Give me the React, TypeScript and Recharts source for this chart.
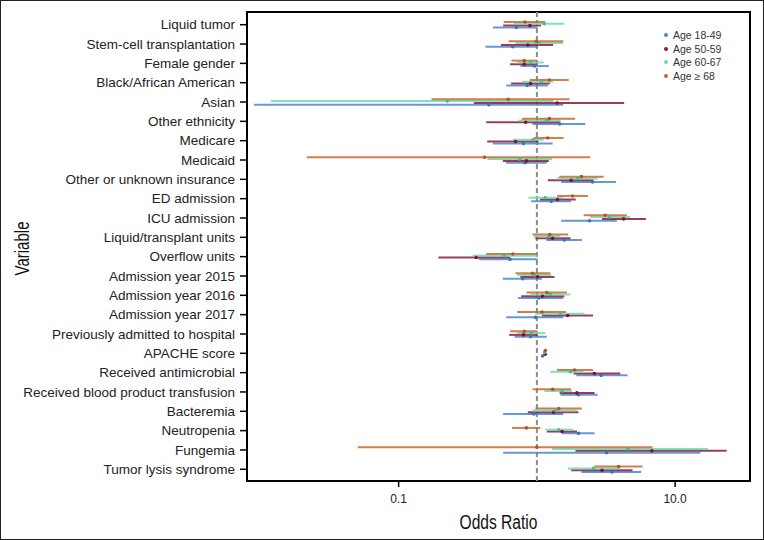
import React from 'react';
import {
  ScatterChart,
  Scatter,
  XAxis,
  YAxis,
  ErrorBar,
  ReferenceLine,
  ReferenceArea,
  Legend,
} from 'recharts';

const categories = [
  'Liquid tumor',
  'Stem-cell transplantation',
  'Female gender',
  'Black/African American',
  'Asian',
  'Other ethnicity',
  'Medicare',
  'Medicaid',
  'Other or unknown insurance',
  'ED admission',
  'ICU admission',
  'Liquid/transplant units',
  'Overflow units',
  'Admission year 2015',
  'Admission year 2016',
  'Admission year 2017',
  'Previously admitted to hospital',
  'APACHE score',
  'Received antimicrobial',
  'Received blood product transfusion',
  'Bacteremia',
  'Neutropenia',
  'Fungemia',
  'Tumor lysis syndrome',
];

const xTicks = [0.1, 10];

// Age 18-49
const or18 = [0.71, 0.67, 0.96, 0.85, 0.449, 1.46, 0.8, 0.82, 2.53, 1.27, 2.4, 1.58, 0.64, 0.79, 1.03, 0.975, 0.9, 1.1, 2.92, 2.0, 0.95, 2.0, 3.18, 3.49];
const lo18 = [0.48, 0.425, 0.76, 0.6, 0.009, 0.93, 0.48, 0.6, 1.5, 0.91, 1.5, 1.17, 0.38, 0.566, 0.73, 0.6, 0.69, 1.08, 1.93, 1.48, 0.57, 1.52, 0.57, 2.1];
const hi18 = [1.01, 1.01, 1.22, 1.2, 1.55, 2.24, 1.3, 1.18, 3.73, 1.77, 3.79, 2.12, 1.01, 1.09, 1.55, 1.55, 1.18, 1.12, 4.53, 2.75, 1.55, 2.61, 15.2, 5.68];

// Age 50-59
const or50 = [0.89, 0.86, 0.81, 0.9, 1.4, 0.83, 0.7, 0.84, 1.77, 1.41, 4.24, 1.3, 0.364, 1.01, 1.1, 1.67, 0.8, 1.15, 2.61, 1.95, 1.32, 1.52, 6.79, 2.96];
const lo50 = [0.57, 0.55, 0.64, 0.65, 0.35, 0.43, 0.437, 0.567, 1.2, 1.05, 2.96, 0.975, 0.194, 0.76, 0.77, 1.09, 0.63, 1.14, 1.84, 1.46, 0.86, 1.18, 1.9, 1.77];
const hi50 = [1.07, 1.31, 1.0, 1.24, 4.28, 1.48, 1.03, 1.22, 2.57, 1.91, 6.14, 1.75, 0.64, 1.34, 1.58, 2.55, 1.01, 1.16, 4.01, 2.61, 2.0, 1.95, 23.6, 4.92];

// Age 60-67
const or60 = [1.13, 1.03, 0.9, 1.08, 0.225, 1.18, 0.94, 0.75, 1.97, 1.15, 3.36, 1.22, 0.58, 0.96, 1.25, 1.48, 0.91, 1.14, 1.75, 1.52, 1.36, 1.44, 4.55, 2.57];
const lo60 = [0.68, 0.7, 0.72, 0.78, 0.0119, 0.74, 0.67, 0.44, 1.4, 0.87, 2.43, 0.95, 0.344, 0.72, 0.9, 0.975, 0.72, 1.13, 1.25, 1.13, 0.92, 1.15, 1.29, 1.68];
const hi60 = [1.58, 1.55, 1.12, 1.31, 1.32, 1.48, 1.12, 1.29, 2.75, 1.56, 4.73, 1.48, 1.01, 1.27, 1.75, 2.21, 1.15, 1.15, 2.18, 1.79, 1.95, 1.83, 17.2, 4.01];

// Age >= 68
const or68 = [0.82, 0.99, 0.81, 1.23, 0.62, 1.23, 1.2, 0.418, 2.1, 1.81, 3.12, 1.24, 0.67, 0.93, 1.18, 1.09, 0.81, 1.15, 1.87, 1.3, 1.44, 0.84, 1.0, 3.9];
const lo68 = [0.575, 0.625, 0.655, 0.887, 0.173, 0.78, 0.95, 0.0217, 1.45, 1.4, 2.18, 0.93, 0.43, 0.7, 0.84, 0.72, 0.64, 1.14, 1.4, 0.93, 0.975, 0.66, 0.0506, 2.6];
const hi68 = [1.15, 1.55, 1.0, 1.7, 1.72, 1.89, 1.56, 2.43, 3.04, 2.34, 4.48, 1.68, 1.01, 1.25, 1.65, 1.62, 1.01, 1.17, 2.55, 1.77, 2.12, 1.06, 6.86, 5.81];

const groups = [
  { name: 'Age 18-49', color: '#4A86D4', dot: '#3C72BE', or: or18, lo: lo18, hi: hi18, dodge: 0.14 },
  { name: 'Age 50-59', color: '#8C1A3D', dot: '#7A1233', or: or50, lo: lo50, hi: hi50, dodge: 0.047 },
  { name: 'Age 60-67', color: '#66DDB0', dot: '#3FC08E', or: or60, lo: lo60, hi: hi60, dodge: -0.047 },
  { name: 'Age \u2265 68', color: '#C8682C', dot: '#B2561E', or: or68, lo: lo68, hi: hi68, dodge: -0.14 },
];

const buildRows = (g: any) =>
  categories.map((c, i) => ({
    name: c,
    x: g.or[i],
    y: i + g.dodge,
    err: [g.or[i] - g.lo[i], g.hi[i] - g.or[i]],
  }));

const sansFont = '"Liberation Sans", Arial, Helvetica, sans-serif';

const X_DOMAIN: [number, number] = [0.008, 34.8];
const Y_DOMAIN: [number, number] = [-0.657, 23.606];

const LegendContent = (props: any) => {
  const payload = props.payload || [];
  return (
    <div style={{ fontFamily: sansFont, fontSize: 10.5, color: '#333' }}>
      {payload.map((p: any) => (
        <div key={p.value} style={{ display: 'flex', alignItems: 'center', height: 13.7 }}>
          <span
            style={{
              display: 'inline-block',
              width: 4,
              height: 4,
              borderRadius: 2,
              background: p.color,
              marginRight: 5,
            }}
          />
          <span>{p.value}</span>
        </div>
      ))}
    </div>
  );
};

const VariableLabel = (props: any) => {
  const vb = props.viewBox || { x: 0, y: 0, width: 0, height: 0 };
  const cx = vb.x + 22;
  const cy = vb.y + vb.height / 2 + 2;
  return (
    <text
      x={cx}
      y={cy}
      transform={`rotate(-90, ${cx}, ${cy})`}
      textAnchor="middle"
      dominantBaseline="central"
      fontFamily={sansFont}
      fontSize={20}
      fill="#111"
      textLength={54}
      lengthAdjust="spacingAndGlyphs"
    >
      Variable
    </text>
  );
};

const OddsLabel = (props: any) => {
  const vb = props.viewBox || { x: 0, y: 0, width: 0, height: 0 };
  const cx = vb.x + vb.width / 2;
  const cy = vb.y + vb.height - 11;
  return (
    <text
      x={cx}
      y={cy}
      textAnchor="middle"
      fontFamily={sansFont}
      fontSize={20}
      fill="#111"
      textLength={78}
      lengthAdjust="spacingAndGlyphs"
    >
      Odds Ratio
    </text>
  );
};

export default function App() {
  return (
    <div style={{ position: 'absolute', left: 0, top: 0, width: 764, height: 540, background: '#fff' }}>
      <ScatterChart width={764} height={540} margin={{ top: 12, right: 14, bottom: 0, left: 0 }}>
        <XAxis
          type="number"
          dataKey="x"
          scale="log"
          domain={X_DOMAIN}
          allowDataOverflow
          ticks={xTicks}
          interval={0}
          tickFormatter={(v: number) => v.toFixed(1)}
          height={59}
          tickSize={6}
          tickMargin={7}
          axisLine={false}
          tickLine={{ stroke: '#000', strokeWidth: 1.5 }}
          tick={{ fontSize: 12, fill: '#222', fontFamily: sansFont }}
          label={{ content: OddsLabel }}
        />
        <YAxis
          type="number"
          dataKey="y"
          domain={Y_DOMAIN}
          allowDataOverflow
          reversed
          ticks={categories.map((_, i) => i)}
          interval={0}
          tickFormatter={(v: number) => categories[Math.round(v)] ?? ''}
          width={247}
          tickSize={7}
          tickMargin={5}
          axisLine={false}
          tickLine={{ stroke: '#000', strokeWidth: 1.5 }}
          tick={{ fontSize: 13.5, fill: '#222', fontFamily: sansFont }}
          label={{ content: VariableLabel }}
        />
        <ReferenceLine
          x={1}
          stroke="#8a8a8a"
          strokeWidth={2}
          strokeDasharray="5 3"
          ifOverflow="visible"
        />
        {groups.map((g) => (
          <Scatter
            key={g.name}
            name={g.name}
            data={buildRows(g)}
            fill={g.color}
            isAnimationActive={false}
            shape={(p: any) => <circle cx={p.cx} cy={p.cy} r={1.8} fill={g.dot} />}
          >
            <ErrorBar
              dataKey="err"
              direction="x"
              width={0}
              stroke={g.color}
              strokeWidth={2}
              strokeOpacity={0.85}
              isAnimationActive={false}
            />
          </Scatter>
        ))}
        <ReferenceArea
          x1={X_DOMAIN[0]}
          x2={X_DOMAIN[1]}
          y1={Y_DOMAIN[0]}
          y2={Y_DOMAIN[1]}
          fill="none"
          stroke="#000"
          strokeWidth={2}
          ifOverflow="visible"
        />
        <Legend
          layout="vertical"
          align="center"
          verticalAlign="middle"
          content={<LegendContent />}
          wrapperStyle={{ left: 664, top: 28, width: 80 }}
        />
      </ScatterChart>
      <div
        style={{
          position: 'absolute',
          left: 0,
          top: 0,
          width: 764,
          height: 540,
          boxSizing: 'border-box',
          border: '1px solid #222',
          pointerEvents: 'none',
        }}
      />
    </div>
  );
}
